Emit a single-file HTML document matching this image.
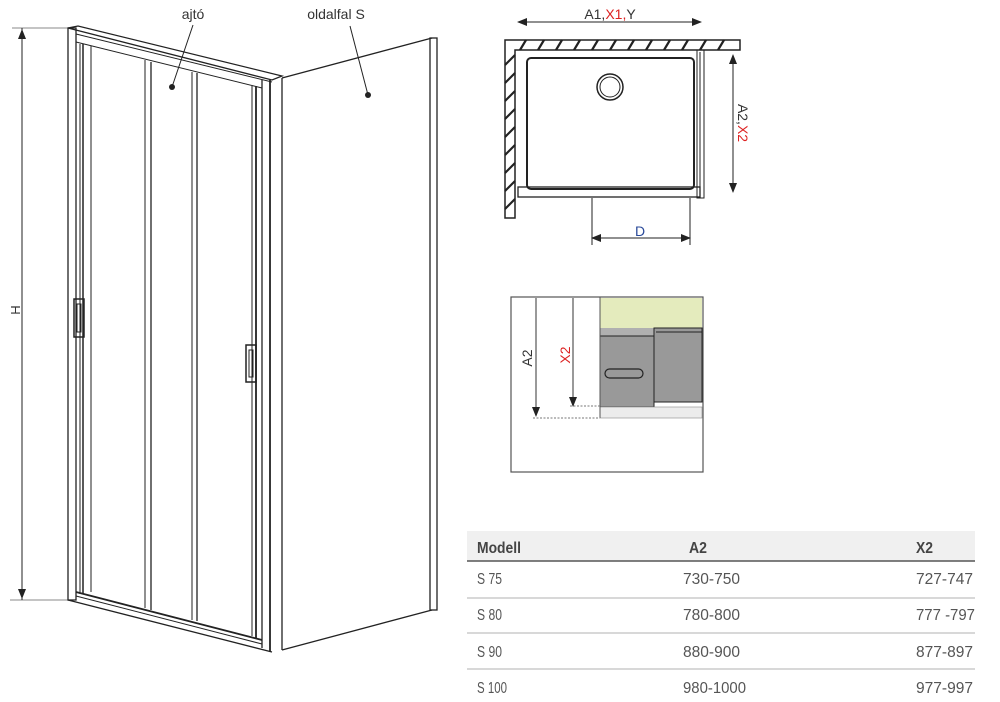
<!DOCTYPE html>
<html><head><meta charset="utf-8"><style>
html,body{margin:0;padding:0;background:#fff;width:1000px;height:702px;overflow:hidden}
svg{display:block}
text{font-family:"Liberation Sans",sans-serif}
.n{font-family:"Liberation Sans",sans-serif;font-size:16px;fill:#555}
</style></head><body>
<svg width="1000" height="702" viewBox="0 0 1000 702">
<defs>
<marker id="a" markerWidth="10" markerHeight="8" refX="9" refY="4" orient="auto" markerUnits="userSpaceOnUse"><path d="M0,0 L10,4 L0,8 z" fill="#222"/></marker>
</defs>
<g stroke="#222" fill="none" stroke-width="1">
<line x1="12" y1="28" x2="68" y2="28" stroke="#888"/>
<line x1="10" y1="600" x2="68" y2="600" stroke="#888"/>
<line x1="22" y1="600" x2="22" y2="30" marker-end="url(#a)"/>
<line x1="22" y1="28" x2="22" y2="598" marker-end="url(#a)"/>
<rect x="68" y="28" width="8" height="572" stroke-width="1.3"/>
<line x1="80" y1="44" x2="80" y2="594"/><line x1="83" y1="44" x2="83" y2="594" stroke-width="1.5"/>
<line x1="91" y1="46" x2="91" y2="592"/>
<path d="M68 28 L78 26 L282 76 L272 80 Z" stroke-width="1.3"/>
<path d="M76 34 L272 82"/>
<path d="M76 42 L262 88"/>
<line x1="145" y1="60" x2="145" y2="608"/><line x1="151" y1="62" x2="151" y2="610" stroke-width="1.3"/>
<line x1="192" y1="72" x2="192" y2="620"/><line x1="197" y1="73" x2="197" y2="621" stroke-width="1.3"/>
<line x1="252" y1="86" x2="252" y2="636"/><line x1="256" y1="86" x2="256" y2="638" stroke-width="1.8"/>
<line x1="262" y1="80" x2="262" y2="648" stroke-width="1.3"/>
<line x1="270" y1="80" x2="270" y2="652" stroke-width="1.8"/>
<line x1="282" y1="78" x2="282" y2="650" stroke-width="1.3"/>
<path d="M76 592 L262 640" stroke-width="1.8"/>
<path d="M76 596 L262 644"/>
<path d="M68 600 L272 652" stroke-width="1.3"/>
<path d="M282 78 L432 38" stroke-width="1.3"/>
<rect x="430" y="38" width="7" height="572" stroke-width="1.3"/>
<path d="M282 650 L432 610" stroke-width="1.3"/>
<rect x="74" y="299" width="10" height="38" stroke-width="1.5"/>
<rect x="77" y="304" width="4" height="28"/>
<rect x="246" y="345" width="10" height="37" stroke-width="1.5"/>
<rect x="249" y="350" width="4" height="27"/>
<line x1="193" y1="25" x2="172" y2="87"/>
<line x1="350" y1="26" x2="368" y2="95"/>
</g>
<circle cx="172" cy="87" r="3" fill="#222"/>
<circle cx="368" cy="95" r="3" fill="#222"/>
<text x="193" y="19" font-size="14" fill="#333" text-anchor="middle">ajtó</text>
<text x="336" y="19" font-size="14" fill="#333" text-anchor="middle">oldalfal S</text>
<text x="20" y="310" font-size="13" fill="#333" text-anchor="middle" transform="rotate(-90 20 310)">H</text>

<g stroke="#222" fill="none" stroke-width="1">
<line x1="518" y1="22" x2="701" y2="22" marker-end="url(#a)"/>
<line x1="701" y1="22" x2="518" y2="22" marker-end="url(#a)"/>
<path d="M505 40 L740 40 L740 50 L515 50 L515 218 L505 218 Z" stroke-width="1.5"/>
<rect x="527" y="58" width="167" height="131" rx="4" stroke-width="2"/>
<circle cx="610" cy="87" r="13" stroke-width="1.5"/><circle cx="610" cy="87" r="10"/>
<rect x="697" y="50" width="7" height="148"/>
<line x1="700" y1="52" x2="700" y2="198"/>
<rect x="518" y="187" width="182" height="10" stroke-width="1.3"/>
<line x1="592" y1="198" x2="592" y2="245"/><line x1="690" y1="198" x2="690" y2="245"/>
<line x1="592" y1="238" x2="690" y2="238" marker-end="url(#a)"/>
<line x1="690" y1="238" x2="592" y2="238" marker-end="url(#a)"/>
<line x1="733" y1="55" x2="733" y2="192" marker-end="url(#a)"/>
<line x1="733" y1="192" x2="733" y2="55" marker-end="url(#a)"/>
<g stroke-width="2.2">
<path d="M520 50 l6 -10 M538 50 l6 -10 M556 50 l6 -10 M574 50 l6 -10 M592 50 l6 -10 M610 50 l6 -10 M628 50 l6 -10 M646 50 l6 -10 M664 50 l6 -10 M682 50 l6 -10 M700 50 l6 -10 M718 50 l6 -10"/>
<path d="M505 65 l10 -10 M505 83 l10 -10 M505 101 l10 -10 M505 119 l10 -10 M505 137 l10 -10 M505 155 l10 -10 M505 173 l10 -10 M505 191 l10 -10 M505 209 l10 -10"/>
</g>
</g>
<text x="610" y="19" font-size="14" fill="#333" text-anchor="middle">A1,<tspan fill="#d22">X1,</tspan>Y</text>
<text x="640" y="236" font-size="14" fill="#2a4a9a" text-anchor="middle">D</text>
<text x="0" y="0" font-size="14" fill="#333" transform="translate(738 123) rotate(90)" text-anchor="middle">A2,<tspan fill="#d22">X2</tspan></text>

<rect x="511" y="297" width="192" height="175" fill="#fff" stroke="#555" stroke-width="1.2"/>
<rect x="600" y="298" width="102" height="30" fill="#e4ebbd"/>
<rect x="600" y="328" width="102" height="8" fill="#b0b0b0"/>
<rect x="600" y="336" width="54" height="71" fill="#999" stroke="#222"/>
<rect x="654" y="328" width="48" height="74" fill="#999" stroke="#222"/>
<line x1="656" y1="332" x2="702" y2="332" stroke="#222"/>
<rect x="600" y="407" width="102" height="11" fill="#ececec" stroke="#888" stroke-width="0.6"/>
<rect x="605" y="369" width="38" height="9" rx="4.5" fill="none" stroke="#222" stroke-width="1.2"/>
<line x1="600" y1="297" x2="600" y2="418" stroke="#555"/>
<g stroke="#333" stroke-width="1">
<line x1="536" y1="298" x2="536" y2="416" marker-end="url(#a)"/>
<line x1="573" y1="298" x2="573" y2="406" marker-end="url(#a)"/>
<line x1="570" y1="406" x2="600" y2="406" stroke-dasharray="2 1.5" stroke="#777"/>
<line x1="533" y1="418" x2="600" y2="418" stroke-dasharray="2 1.5" stroke="#777"/>
</g>
<text x="0" y="0" font-size="14" fill="#333" transform="translate(532 358) rotate(-90)" text-anchor="middle">A2</text>
<text x="0" y="0" font-size="14" fill="#d22" transform="translate(570 355) rotate(-90)" text-anchor="middle">X2</text>

<rect x="467" y="531" width="508" height="30" fill="#f0f0f0"/>
<line x1="467" y1="561" x2="975" y2="561" stroke="#555" stroke-width="1.5"/>
<line x1="467" y1="598" x2="975" y2="598" stroke="#ccc" stroke-width="1.5"/>
<line x1="467" y1="633" x2="975" y2="633" stroke="#ccc" stroke-width="1.5"/>
<line x1="467" y1="669" x2="975" y2="669" stroke="#ccc" stroke-width="1.5"/>
<g class="n">
<text x="477" y="553" font-weight="bold" fill="#444" textLength="44" lengthAdjust="spacingAndGlyphs">Modell</text>
<text x="689" y="553" font-weight="bold" fill="#444" textLength="18" lengthAdjust="spacingAndGlyphs">A2</text>
<text x="916" y="553" font-weight="bold" fill="#444" textLength="17" lengthAdjust="spacingAndGlyphs">X2</text>
<text x="477" y="584" textLength="25" lengthAdjust="spacingAndGlyphs">S 75</text><text x="683" y="584" textLength="57" lengthAdjust="spacingAndGlyphs">730-750</text><text x="916" y="584" textLength="57" lengthAdjust="spacingAndGlyphs">727-747</text>
<text x="477" y="620" textLength="25" lengthAdjust="spacingAndGlyphs">S 80</text><text x="683" y="620" textLength="57" lengthAdjust="spacingAndGlyphs">780-800</text><text x="916" y="620" textLength="59" lengthAdjust="spacingAndGlyphs">777 -797</text>
<text x="477" y="657" textLength="25" lengthAdjust="spacingAndGlyphs">S 90</text><text x="683" y="657" textLength="57" lengthAdjust="spacingAndGlyphs">880-900</text><text x="916" y="657" textLength="57" lengthAdjust="spacingAndGlyphs">877-897</text>
<text x="477" y="693" textLength="30" lengthAdjust="spacingAndGlyphs">S 100</text><text x="683" y="693" textLength="63" lengthAdjust="spacingAndGlyphs">980-1000</text><text x="916" y="693" textLength="57" lengthAdjust="spacingAndGlyphs">977-997</text>
</g>
</svg>
</body></html>
